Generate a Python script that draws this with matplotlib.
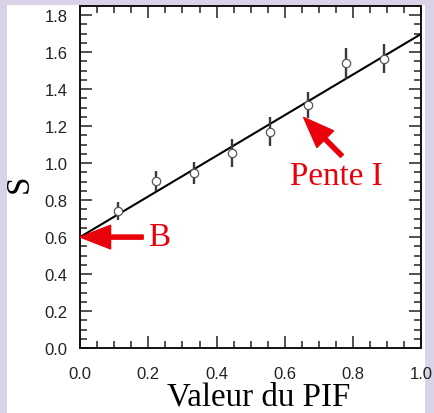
import matplotlib
matplotlib.use("Agg")
import matplotlib.pyplot as plt
from matplotlib.patches import Rectangle, FancyArrowPatch
from matplotlib.ticker import MultipleLocator
import numpy as np

# PIF values and measured S with their uncertainties
pif = [0.111, 0.222, 0.333, 0.444, 0.556, 0.667, 0.778, 0.889]
s_values = [0.742, 0.904, 0.946, 1.054, 1.171, 1.314, 1.539, 1.566]
s_errors = [0.05, 0.055, 0.06, 0.075, 0.078, 0.07, 0.083, 0.076]

# fitted line: S = B + I * PIF
intercept_b = 0.6
slope_i = 1.1

x_ticks = [0.0, 0.2, 0.4, 0.6, 0.8, 1.0]
y_ticks = [0.0, 0.2, 0.4, 0.6, 0.8, 1.0, 1.2, 1.4, 1.6, 1.8]

W, H = 434, 414
fig = plt.figure(figsize=(W / 100, H / 100), dpi=100)
fig.patch.set_facecolor("#dad2e6")
fig.patches.append(Rectangle((7 / W, 0), (425 - 7) / W, (H - 6) / H,
                             transform=fig.transFigure, facecolor="white",
                             edgecolor="none", zorder=-10))

ax = fig.add_axes([80 / W, 65 / H, 341.5 / W, 342 / H])
ax.set_zorder(1)
ax.set_xlim(0, 1.0)
ax.set_ylim(0, 1.85)

serif = ["Liberation Serif", "DejaVu Serif"]
sans = ["Liberation Sans", "DejaVu Sans"]

# fit line
xl = np.array([0.0, 1.0])
ax.plot(xl, intercept_b + slope_i * xl, color="black", lw=1.5, zorder=2)

# data with error bars
ax.errorbar(pif, s_values, yerr=s_errors, fmt="o", ms=6, mfc="white",
            mec="#555555", mew=0.9, ecolor="#3a3a3a", elinewidth=1.7,
            capsize=0, zorder=3)

# ticks
ax.set_xticks(x_ticks)
ax.set_yticks(y_ticks)
ax.set_xticklabels([f"{v:.1f}" for v in x_ticks], fontfamily=sans)
ax.set_yticklabels([f"{v:.1f}" for v in y_ticks], fontfamily=sans)
ax.xaxis.set_minor_locator(MultipleLocator(0.05))
ax.yaxis.set_minor_locator(MultipleLocator(0.05))
ax.tick_params(which="both", direction="in", top=True, right=True,
               width=1.1, color="#222222")
ax.tick_params(which="major", length=8.6, labelsize=12, labelcolor="#222222")
ax.tick_params(which="minor", length=5)
ax.tick_params(axis="x", which="major", pad=13)
ax.tick_params(axis="y", which="major", pad=9)
for sp in ax.spines.values():
    sp.set_linewidth(1.4)
    sp.set_color("#111111")

# axis labels
ax.set_xlabel("Valeur du PIF", fontfamily=serif, fontsize=23.8)
ax.xaxis.set_label_coords((259 - 80) / 341.5, (349 - 406) / 342)
ax.xaxis.label.set_va("baseline")
ax.set_ylabel("S", fontfamily=serif, fontsize=23.8)
ax.yaxis.set_label_coords((19 - 80) / 341.5, (349 - 184) / 342)
ax.yaxis.label.set_va("center")
ax.yaxis.label.set_ha("center")

red = "#e8000b"
arrow_style = "simple,head_length=2.2,head_width=1.7,tail_width=0.3"

# intercept annotation
ax.add_patch(FancyArrowPatch((0.185, intercept_b), (0.0, intercept_b),
                             arrowstyle=arrow_style, mutation_scale=10,
                             color=red, shrinkA=0, shrinkB=0, zorder=4,
                             clip_on=False))
ax.text(0.202, 0.557, "B", color=red, fontfamily=serif, fontsize=23.8,
        va="baseline", ha="left")

# slope annotation
ax.add_patch(FancyArrowPatch((0.767, 1.039), (0.655, 1.247),
                             arrowstyle=arrow_style, mutation_scale=10,
                             color=red, shrinkA=0, shrinkB=0, zorder=4))
ax.text(0.615, 0.886, "Pente I", color=red, fontfamily=serif, fontsize=23.8,
        va="baseline", ha="left")

fig.savefig("out.png", dpi=100, facecolor=fig.get_facecolor())
